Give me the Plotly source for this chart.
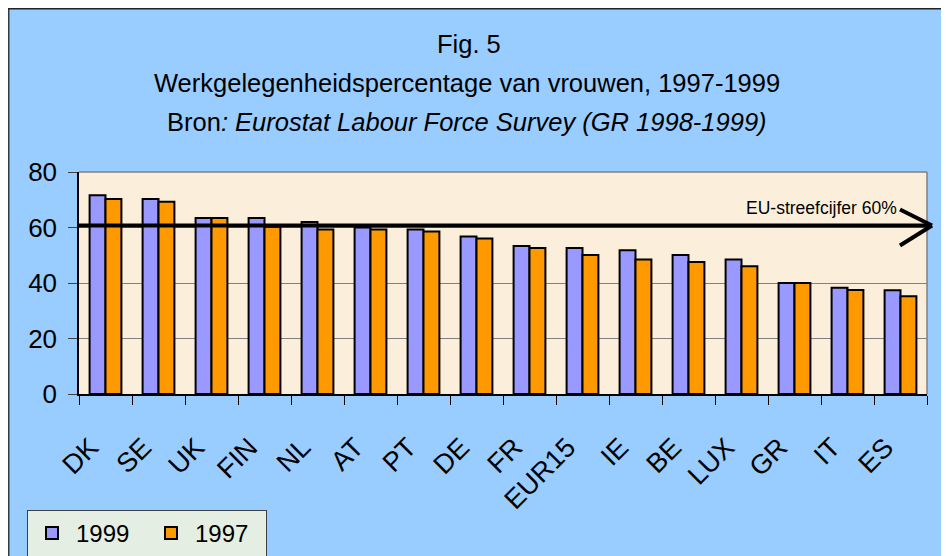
import plotly.graph_objects as go

# ---- data ----
countries = ["DK", "SE", "UK", "FIN", "NL", "AT", "PT", "DE", "FR", "EUR15",
             "IE", "BE", "LUX", "GR", "IT", "ES"]
values_1999 = [71.6, 70.3, 63.4, 63.4, 62.0, 60.0, 59.3, 56.8, 53.3, 52.6,
               51.8, 50.1, 48.5, 40.0, 38.3, 37.4]
values_1997 = [70.3, 69.3, 63.4, 60.3, 59.3, 59.3, 58.6, 56.0, 52.6, 50.1,
               48.5, 47.6, 46.0, 40.0, 37.5, 35.2]
target_value = 60.7
target_label = "EU-streefcijfer 60%"
y_ticks = [0, 20, 40, 60, 80]

OFF = 8                      # page body margin
W, H = 949 - OFF, 556 - OFF  # figure size
# plot area in screen pixels
SL, SR, ST, SB = 79, 927, 172, 394
L, R, T, B = SL - OFF, SR - OFF, ST - OFF, SB - OFF


def px(x):  # screen x -> paper
    return (x - SL) / (SR - SL)


def py(y):  # screen y -> paper
    return (SB - y) / (SB - ST)


FONT = "Liberation Sans, Arial, sans-serif"

fig = go.Figure()
fig.add_trace(go.Bar(name="1999", x=countries, y=values_1999,
                     marker=dict(color="#9999FF", line=dict(color="black", width=2))))
fig.add_trace(go.Bar(name="1997", x=countries, y=values_1997,
                     marker=dict(color="#FF9900", line=dict(color="black", width=2))))

shapes = []
# outer chart frame dark line at top/left
shapes.append(dict(type="line", xref="paper", yref="paper", x0=px(OFF + 0.5), x1=px(OFF + 0.5),
                   y0=py(570), y1=py(OFF), line=dict(color="#333a40", width=2)))
shapes.append(dict(type="line", xref="paper", yref="paper", x0=px(OFF), x1=px(960),
                   y0=py(OFF + 0.5), y1=py(OFF + 0.5), line=dict(color="#222222", width=2)))
# plot area top/right gray border
shapes.append(dict(type="line", xref="paper", yref="paper", x0=0, x1=1, y0=1, y1=1,
                   line=dict(color="#808080", width=1.5), layer="below"))
shapes.append(dict(type="line", xref="paper", yref="paper", x0=1, x1=1, y0=0, y1=1,
                   line=dict(color="#808080", width=1.5), layer="below"))
# target arrow
tip_x = px(932)
arm_x = px(900)
shapes.append(dict(type="line", xref="paper", yref="y", x0=0, x1=tip_x, y0=target_value, y1=target_value,
                   line=dict(color="black", width=4)))
shapes.append(dict(type="line", xref="paper", yref="y", x0=arm_x, x1=tip_x, y0=target_value + 5.8,
                   y1=target_value, line=dict(color="black", width=4)))
shapes.append(dict(type="line", xref="paper", yref="y", x0=arm_x, x1=tip_x, y0=target_value - 7.2,
                   y1=target_value, line=dict(color="black", width=4)))

annotations = [
    dict(text="Fig. 5", x=px(469), y=py(44), xref="paper", yref="paper", showarrow=False,
         xanchor="center", yanchor="middle", font=dict(family=FONT, size=25.5, color="black")),
    dict(text="Werkgelegenheidspercentage van vrouwen, 1997-1999", x=px(467), y=py(83),
         xref="paper", yref="paper", showarrow=False, xanchor="center", yanchor="middle",
         font=dict(family=FONT, size=25.5, color="black")),
    dict(text="Bron<i>: Eurostat Labour Force Survey (GR 1998-1999)</i>", x=px(467), y=py(122),
         xref="paper", yref="paper", showarrow=False, xanchor="center", yanchor="middle",
         font=dict(family=FONT, size=25.5, color="black")),
    dict(text=target_label, x=px(899), y=py(208), xref="paper", yref="paper", showarrow=False,
         xanchor="right", yanchor="middle", font=dict(family=FONT, size=17.5, color="black")),
]

fig.update_layout(
    width=W, height=H,
    margin=dict(l=L, r=W - R, t=T, b=H - B, pad=0, autoexpand=False),
    paper_bgcolor="#99CCFF",
    plot_bgcolor="#FBEFDB",
    barmode="group", bargap=0.4, bargroupgap=0,
    font=dict(family=FONT, color="black"),
    showlegend=True,
    legend=dict(orientation="h", x=px(27), y=py(510), xanchor="left", yanchor="top",
                bgcolor="#E4EEE2", bordercolor="#404040", borderwidth=1,
                font=dict(family=FONT, size=24, color="black"),
                itemwidth=38, entrywidth=66, entrywidthmode="pixels",
                traceorder="normal"),
    shapes=shapes,
    annotations=annotations,
)
fig.update_xaxes(type="category", tickson="boundaries", ticks="outside", ticklen=9,
                 tickcolor="black", tickwidth=1, showline=True, linecolor="black", linewidth=1.5,
                 tickangle=-45, tickfont=dict(family=FONT, size=27, color="black"),
                 showgrid=False, ticklabelstandoff=25, ticklabelshift=-15)
fig.update_yaxes(range=[0, 80], tickvals=y_ticks, ticks="outside", ticklen=9,
                 tickcolor="#404040", tickwidth=1, showline=True, linecolor="black", linewidth=1.5,
                 tickfont=dict(family=FONT, size=26, color="black"),
                 showgrid=True, gridcolor="#808080", gridwidth=1, zeroline=False,
                 ticklabelstandoff=6)

fig.write_html("out.html")
